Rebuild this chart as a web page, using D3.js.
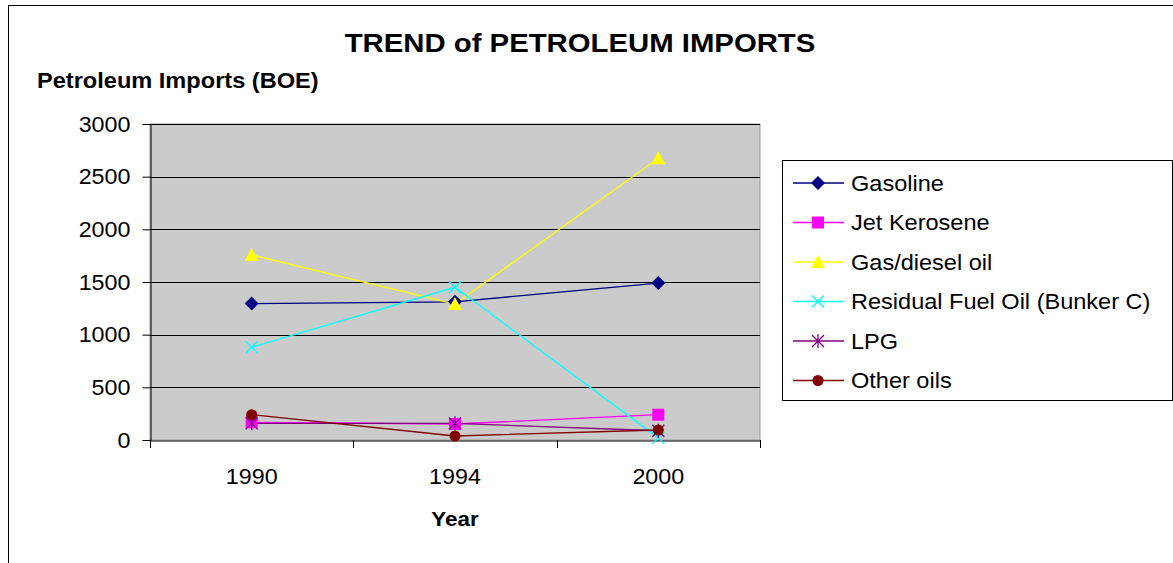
<!DOCTYPE html>
<html>
<head>
<meta charset="utf-8">
<script src="https://cdn.jsdelivr.net/npm/d3@7"></script>
<style>
  body { margin: 0; background: #fff; }
  svg { font-family: "Liberation Sans", Arial, sans-serif; }
</style>
</head>
<body>
<div id="chart"></div>
<script>
// data
var years = ["1990", "1994", "2000"];
var seriesNames = ["Gasoline", "Jet Kerosene", "Gas/diesel oil", "Residual Fuel Oil (Bunker C)", "LPG", "Other oils"];
var gasoline = [1295, 1312, 1490];
var jetKerosene = [168, 152, 240];
var gasDiesel = [1757, 1290, 2675];
var residual = [880, 1450, 20];
var lpg = [158, 158, 88];
var otherOils = [240, 38, 95];
var yTicks = [0, 500, 1000, 1500, 2000, 2500, 3000];

var colors = ["#000080", "#FF00FF", "#FFFF00", "#00FFFF", "#800080", "#800000"];
var shapes = ["diamond", "square", "triangle", "x", "star", "circle"];

var series = [gasoline, jetKerosene, gasDiesel, residual, lpg, otherOils].map(function(v, i) {
  return { name: seriesNames[i], values: v, color: colors[i], shape: shapes[i] };
});

var W = 1173, H = 563;
var margin = {top: 124, left: 150},
    width = 610,
    height = 316;

// the source picture is a little wider than tall, so text is stretched sideways
function stretch(sx) {
  return function(sel) {
    sel.each(function() {
      var t = d3.select(this);
      var x0 = +t.attr("x") || 0;
      t.attr("transform", "translate(" + (x0 * (1 - sx)) + ",0) scale(" + sx + ",1)");
    });
  };
}

var svg = d3.select("#chart")
  .append("svg")
    .attr("width", W)
    .attr("height", H);

// outer chart border
svg.append("rect")
  .attr("x", 8.5).attr("y", 5.5)
  .attr("width", W + 10).attr("height", H + 10)
  .attr("fill", "#fff")
  .attr("stroke", "#000").attr("stroke-width", 1);

// title
svg.append("text")
  .attr("x", 580).attr("y", 52.5)
  .attr("text-anchor", "middle")
  .style("font-size", "25.5px").style("font-weight", "bold")
  .text("TREND of PETROLEUM IMPORTS")
  .call(stretch(1.15));

svg.append("text")
  .attr("x", 37).attr("y", 88)
  .style("font-size", "22px").style("font-weight", "bold")
  .text("Petroleum Imports (BOE)")
  .call(stretch(1.072));

var g = svg.append("g")
  .attr("transform", "translate(" + margin.left + "," + margin.top + ")");

var x = d3.scaleBand().domain(years).range([0, width]).padding(0);
var y = d3.scaleLinear().domain([0, 3000]).range([height, 0]);

// plot background
g.append("rect")
  .attr("width", width).attr("height", height)
  .attr("fill", "#CBCBCB")
  .attr("stroke", "#9a9a9a").attr("stroke-width", 1);

// gridlines
g.append("g")
  .selectAll("line")
  .data(yTicks.slice(1))
  .enter()
  .append("line")
    .attr("x1", 0).attr("x2", width)
    .attr("y1", function(d) { return Math.round(y(d)) + 0.5; })
    .attr("y2", function(d) { return Math.round(y(d)) + 0.5; })
    .attr("stroke", "#000").attr("stroke-width", 1);

// Y axis
var yAxis = g.append("g")
  .attr("transform", "translate(0.5,0)")
  .call(d3.axisLeft(y).tickValues(yTicks).tickFormat(d3.format("d")).tickSize(8).tickPadding(12));
yAxis.select(".domain").attr("stroke", "#000");
yAxis.selectAll("text").style("font-size", "22px").attr("fill", "#000").call(stretch(1.06));

// X axis
var xAxis = g.append("g")
  .attr("transform", "translate(0," + (height + 0.5) + ")")
  .call(d3.axisBottom(x).tickSize(0).tickPadding(28));
xAxis.select(".domain").attr("stroke", "#000");
xAxis.selectAll("text").style("font-size", "22px").attr("fill", "#000").call(stretch(1.06));

// category boundary ticks
var bounds = years.map(function(d) { return x(d); }).concat([x(years[years.length - 1]) + x.bandwidth()]);
g.append("g")
  .selectAll("line")
  .data(bounds)
  .enter()
  .append("line")
    .attr("x1", function(d) { return Math.round(d) + 0.5; })
    .attr("x2", function(d) { return Math.round(d) + 0.5; })
    .attr("y1", height).attr("y2", height + 8)
    .attr("stroke", "#000");

svg.append("text")
  .attr("x", 455).attr("y", 526)
  .attr("text-anchor", "middle")
  .style("font-size", "21px").style("font-weight", "bold")
  .text("Year")
  .call(stretch(1.067));

// marker drawing
function drawMarker(sel, shape, color) {
  if (shape === "diamond") {
    sel.append("path").attr("d", "M0,-7L7,0L0,7L-7,0Z").attr("fill", color);
  } else if (shape === "square") {
    sel.append("rect").attr("x", -6).attr("y", -6).attr("width", 12).attr("height", 12).attr("fill", color);
  } else if (shape === "triangle") {
    sel.append("path").attr("d", "M0,-7L7,6L-7,6Z").attr("fill", color);
  } else if (shape === "x") {
    sel.append("path").attr("d", "M-6,-6L6,6M-6,6L6,-6").attr("stroke", color).attr("stroke-width", 1.3).attr("fill", "none");
  } else if (shape === "star") {
    sel.append("path").attr("d", "M-6,-6L6,6M-6,6L6,-6M0,-7L0,7").attr("stroke", color).attr("stroke-width", 1.3).attr("fill", "none");
  } else {
    sel.append("circle").attr("r", 5.5).attr("fill", color);
  }
}

var line = d3.line()
  .x(function(d, i) { return x(years[i]) + x.bandwidth() / 2; })
  .y(function(d) { return y(d); });

series.forEach(function(s) {
  g.append("path")
    .datum(s.values)
    .attr("d", line)
    .attr("fill", "none")
    .attr("stroke", s.color)
    .attr("stroke-width", 1.3);
});
series.forEach(function(s) {
  g.append("g")
    .selectAll("g")
    .data(s.values)
    .enter()
    .append("g")
      .attr("transform", function(d, i) {
        return "translate(" + (x(years[i]) + x.bandwidth() / 2) + "," + y(d) + ")";
      })
      .each(function() { drawMarker(d3.select(this), s.shape, s.color); });
});

// legend
var legend = svg.append("g").attr("transform", "translate(782,160)");
legend.append("rect")
  .attr("x", 0.5).attr("y", 0.5)
  .attr("width", 390).attr("height", 240)
  .attr("fill", "#fff").attr("stroke", "#000");

var item = legend.selectAll(".item")
  .data(series)
  .enter()
  .append("g")
    .attr("class", "item")
    .attr("transform", function(d, i) { return "translate(0," + (23 + i * 39.5) + ")"; });

item.append("line")
  .attr("x1", 11).attr("x2", 62)
  .attr("stroke", function(d) { return d.color; })
  .attr("stroke-width", 1.3);
item.each(function(d) { drawMarker(d3.select(this).append("g").attr("transform", "translate(36,0)"), d.shape, d.color); });
item.append("text")
  .attr("x", 69).attr("y", 7.5)
  .style("font-size", "22px")
  .text(function(d) { return d.name; })
  .call(stretch(1.07));
</script>
</body>
</html>
